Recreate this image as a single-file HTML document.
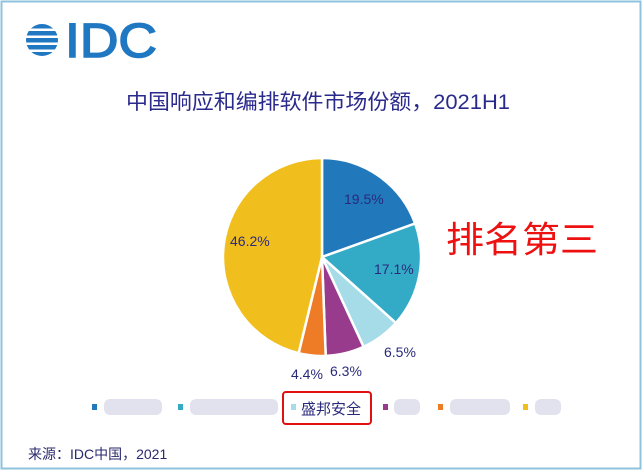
<!DOCTYPE html>
<html><head><meta charset="utf-8"><style>
body{margin:0;width:642px;height:472px;background:#fff;overflow:hidden;font-family:"Liberation Sans","Noto Sans CJK SC",sans-serif;}
</style></head><body>
<svg width="642" height="472" xmlns="http://www.w3.org/2000/svg" style="position:absolute;left:0;top:0">
<rect x="1.5" y="1.5" width="639" height="467" fill="#fff" stroke="#8fc3dd" stroke-width="2"/>
<defs><clipPath id="c"><circle cx="42" cy="40" r="16"/></clipPath></defs>
<g clip-path="url(#c)" fill="#1f78c1">
<rect x="24" y="24" width="40" height="4.5"/><rect x="24" y="31" width="40" height="4.5"/>
<rect x="24" y="38" width="40" height="4.5"/><rect x="24" y="45" width="40" height="4.5"/><rect x="24" y="52" width="40" height="4.5"/>
</g>
<text x="65" y="57" font-size="48" fill="#1f78c1" stroke="#1f78c1" stroke-width="1.5" font-family="Liberation Sans,sans-serif" textLength="92" lengthAdjust="spacingAndGlyphs">IDC</text>
<text x="318" y="109" font-size="21" fill="#2a2a8c" text-anchor="middle" font-family="Liberation Sans,Noto Sans CJK SC,sans-serif" textLength="384" lengthAdjust="spacingAndGlyphs">中国响应和编排软件市场份额，2021H1</text>
<g stroke="#fff" stroke-width="2.5" stroke-linejoin="round">
<path d="M322,257 L322,158 A99,99 0 0 1 415.1,223.5 Z" fill="#2178ba"/>
<path d="M322,257 L415.1,223.5 A99,99 0 0 1 395.9,323 Z" fill="#33aac6"/>
<path d="M322,257 L395.9,323 A99,99 0 0 1 363.6,346.8 Z" fill="#a5dce8"/>
<path d="M322,257 L363.6,346.8 A99,99 0 0 1 325.7,355.9 Z" fill="#983b8c"/>
<path d="M322,257 L325.7,355.9 A99,99 0 0 1 298.6,353.2 Z" fill="#ee7b25"/>
<path d="M322,257 L298.6,353.2 A99,99 0 0 1 322,158 Z" fill="#f1bf1d"/>
</g>
<g font-size="14" fill="#2a2a7c" font-family="Liberation Sans,sans-serif">
<text x="344" y="204">19.5%</text>
<text x="374" y="274">17.1%</text>
<text x="384" y="357">6.5%</text>
<text x="330" y="376">6.3%</text>
<text x="291" y="379">4.4%</text>
<text x="230" y="246">46.2%</text>
</g>
<text x="446" y="252" font-size="36" fill="#ee1111" font-family="Noto Sans CJK SC,sans-serif" textLength="152" lengthAdjust="spacingAndGlyphs">排名第三</text>
<g>
<rect x="92" y="404" width="5" height="6" fill="#2178ba"/>
<rect x="178" y="404" width="5" height="6" fill="#33aac6"/>
<rect x="291" y="404" width="5" height="6" fill="#a5dce8"/>
<rect x="383" y="404" width="5" height="6" fill="#983b8c"/>
<rect x="438" y="404" width="5" height="6" fill="#ee7b25"/>
<rect x="523" y="404" width="5" height="6" fill="#f1bf1d"/>
</g>
<g fill="#e2e2ee">
<rect x="104" y="399" width="58" height="16" rx="6"/>
<rect x="190" y="399" width="88" height="16" rx="6"/>
<rect x="394" y="399" width="26" height="16" rx="6"/>
<rect x="450" y="399" width="60" height="16" rx="6"/>
<rect x="535" y="399" width="26" height="16" rx="6"/>
</g>
<text x="301" y="414" font-size="15" fill="#2a2a7c" font-family="Noto Sans CJK SC,sans-serif">盛邦安全</text>
<rect x="283" y="392" width="88" height="32" rx="3" fill="none" stroke="#e01010" stroke-width="2"/>
<text x="28" y="459" font-size="14" fill="#2a2a6c" font-family="Liberation Sans,Noto Sans CJK SC,sans-serif">来源：IDC中国，2021</text>
</svg>
</body></html>
